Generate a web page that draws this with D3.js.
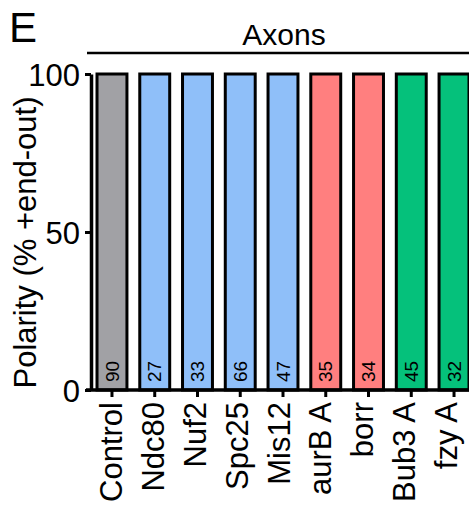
<!DOCTYPE html>
<html>
<head>
<meta charset="utf-8">
<script src="https://cdn.jsdelivr.net/npm/d3@7"></script>
<style>
  html, body { margin: 0; padding: 0; background: #fff; }
  svg { display: block; font-family: "Liberation Sans", Arial, Helvetica, sans-serif; }
</style>
</head>
<body>
<svg id="chart" width="469" height="509"></svg>
<script>
// Axon polarity (% plus-end-out) per RNAi condition
const categories = ["Control", "Ndc80", "Nuf2", "Spc25", "Mis12", "aurB A", "borr", "Bub3 A", "fzy A"];
const polarity   = [100, 100, 100, 100, 100, 100, 100, 100, 100];
const counts     = [90, 27, 33, 66, 47, 35, 34, 45, 32];
const groups     = ["control", "kmn", "kmn", "kmn", "kmn", "cpc", "cpc", "sac", "sac"];
const yTicks     = [0, 50, 100];

const groupColor = {
  control: "#a1a1a5",
  kmn: "#8fbff9",
  cpc: "#ff7f7f",
  sac: "#05c17b"
};

const svg = d3.select("#chart");

const x = d3.scaleBand()
  .domain(categories)
  .range([90.6, 475.4])
  .paddingInner(0.3)
  .paddingOuter(0.15);

// baseline positions of the rotated category labels (slightly tighter than the bars)
const xLabel = d3.scalePoint()
  .domain(categories)
  .range([122, 457]);

const y = d3.scaleLinear()
  .domain([0, 100])
  .range([390, 74]);

const data = categories.map((c, i) => ({ cat: c, value: polarity[i], n: counts[i], group: groups[i] }));

// bars
svg.append("g")
  .selectAll("rect")
  .data(data)
  .join("rect")
  .attr("x", d => x(d.cat))
  .attr("y", d => y(d.value))
  .attr("width", x.bandwidth())
  .attr("height", d => y(0) - y(d.value))
  .attr("fill", d => groupColor[d.group])
  .attr("stroke", "#000")
  .attr("stroke-width", 3);

// n per bar, written upward near the base
svg.append("g")
  .selectAll("text")
  .data(data)
  .join("text")
  .attr("transform", d => `translate(${x(d.cat) + x.bandwidth() / 2},${y(0) - 8}) rotate(-90)`)
  .attr("dy", "0.35em")
  .attr("text-anchor", "start")
  .attr("font-size", 19)
  .attr("fill", "#000")
  .text(d => d.n);

// y axis
const yAxis = svg.append("g")
  .attr("transform", "translate(91,0)")
  .call(d3.axisLeft(y).tickValues(yTicks).tickSize(6).tickPadding(5).tickSizeOuter(0));
yAxis.select(".domain").attr("stroke", "#000").attr("stroke-width", 3.5);
yAxis.selectAll(".tick line").attr("stroke", "#000").attr("stroke-width", 3);
yAxis.selectAll(".tick text")
  .attr("font-size", 31)
  .attr("font-family", null)
  .attr("fill", "#000")
  .attr("dy", "0.36em");

// x axis
const xAxis = svg.append("g")
  .attr("transform", `translate(0,${y(0)})`)
  .call(d3.axisBottom(x).tickSize(7).tickSizeOuter(0));
xAxis.select(".domain").attr("d", `M86,0H469`).attr("stroke", "#000").attr("stroke-width", 3.5);
xAxis.selectAll(".tick line").attr("stroke", "#000").attr("stroke-width", 3);
xAxis.selectAll(".tick text").remove();

svg.append("g")
  .selectAll("text")
  .data(categories)
  .join("text")
  .attr("transform", d => `translate(${xLabel(d)},${y(0) + 12}) rotate(-90)`)
  .attr("text-anchor", "end")
  .attr("font-size", 31)
  .attr("fill", "#000")
  .text(d => d);

// y axis title
svg.append("text")
  .attr("transform", "translate(36,242.5) rotate(-90)")
  .attr("text-anchor", "middle")
  .attr("font-size", 31)
  .attr("fill", "#000")
  .text("Polarity (% +end-out)");

// group header
svg.append("line")
  .attr("x1", 87).attr("x2", 469)
  .attr("y1", 53).attr("y2", 53)
  .attr("stroke", "#000").attr("stroke-width", 2.5);
svg.append("text")
  .attr("x", 284).attr("y", 45)
  .attr("text-anchor", "middle")
  .attr("font-size", 30)
  .attr("fill", "#000")
  .text("Axons");

// panel letter
svg.append("text")
  .attr("x", 9).attr("y", 42)
  .attr("font-size", 42)
  .attr("fill", "#000")
  .text("E");
</script>
</body>
</html>
